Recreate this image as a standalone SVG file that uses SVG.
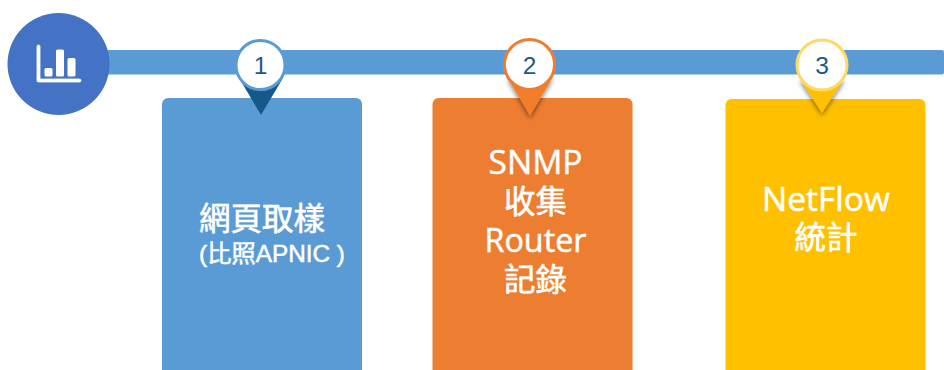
<svg xmlns="http://www.w3.org/2000/svg" width="944" height="370" viewBox="0 0 944 370">
<defs>
<style>
.t{fill:#fff;stroke:#fff;stroke-width:.5px;text-anchor:middle;font-family:"Open Sans","Noto Sans CJK TC",sans-serif;font-size:33.500px}
.r{font-size:32.300px}
.tc{fill:#fff;stroke:#fff;stroke-width:.6px;text-anchor:middle;font-family:"Noto Sans CJK TC",sans-serif;font-size:31.500px}
.sub{fill:#fff;stroke:#fff;stroke-width:.5px;font-family:"Liberation Sans","Noto Sans CJK TC",sans-serif;font-size:24.300px;text-anchor:middle}
.n{fill:#1a5a8a;font-family:"Liberation Sans",sans-serif;font-size:24.500px;text-anchor:middle}
.ic{fill:#fff}
.ring{fill:#fff;stroke-width:3px}
</style>
<filter id="sh" x="-50%" y="-50%" width="200%" height="200%"><feDropShadow dx="0" dy="2" stdDeviation="2.500" flood-color="#000" flood-opacity=".55"/></filter>
</defs>
<g id="connectors">
<rect x="100" y="50" width="844" height="24.500" rx="2" fill="#5b9bd5"/>
</g>
<g id="hub">
<circle cx="58.500" cy="64" r="51" fill="#4472c4"/>
<path class="ic" d="M37 46.500a1.500 1.500 0 0 1 3 0V79h39.500a1.500 1.500 0 0 1 0 3H38.500a1.500 1.500 0 0 1-1.500-1.500Z" stroke="#fff" stroke-width=".8"/>
<rect class="ic" x="44.500" y="68" width="8" height="8.500" rx="1.500"/>
<rect class="ic" x="56" y="49.500" width="8" height="27" rx="1.500"/>
<rect class="ic" x="67.500" y="58" width="8" height="18.500" rx="1.500"/>
</g>
<g id="card1">
<rect x="162" y="98" width="200" height="290" rx="6" fill="#5b9bd5"/>
<text class="tc" x="262" y="230">網頁取樣</text>
<text class="sub" x="272" y="262">(比照APNIC )</text>
</g>
<g id="card2">
<rect x="432.500" y="98" width="200" height="290" rx="6" fill="#ed7d31"/>
<text class="t" x="535.500" y="174">SNMP</text>
<text class="tc" x="535.500" y="213">收集</text>
<text class="t r" x="535.500" y="252">Router</text>
<text class="tc" x="535.500" y="291">記錄</text>
</g>
<g id="card3">
<rect x="725.500" y="99" width="200" height="290" rx="6" fill="#ffc000"/>
<text class="t" x="826" y="211">NetFlow</text>
<text class="tc" x="826" y="249">統計</text>
</g>
<g id="pin1">
<path d="M239 78H283L261 115Z" fill="#15598a"/>
<circle class="ring" cx="260.500" cy="65" r="24.500" stroke="#5b9bd5"/>
<text class="n" x="260.500" y="74">1</text>
</g>
<g id="pin2">
<path d="M507.500 77.500H552.500L530 116Z" fill="#f27d2b" filter="url(#sh)"/>
<circle class="ring" cx="529.500" cy="64.500" r="25" stroke="#ed7d31"/>
<text class="n" x="529.500" y="74">2</text>
</g>
<g id="pin3">
<path d="M800 79H844L822 113Z" fill="#ffc000" filter="url(#sh)"/>
<circle class="ring" cx="822" cy="65" r="25" stroke="#ffd966"/>
<text class="n" x="822" y="74">3</text>
</g>
</svg>
